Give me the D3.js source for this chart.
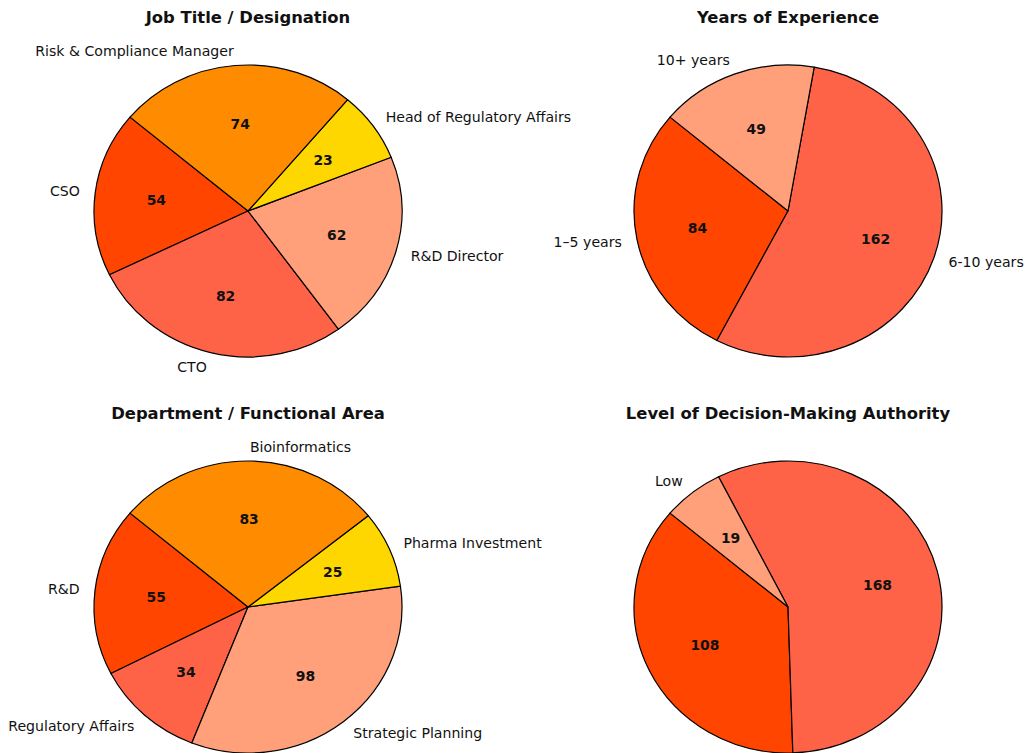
<!DOCTYPE html>
<html>
<head>
<meta charset="utf-8">
<title>Survey Respondent Profile</title>
<script src="https://cdn.jsdelivr.net/npm/d3@7"></script>
<style>
body { margin: 0; background: #ffffff; }
svg { display: block; }
svg text { font-family: "DejaVu Sans", sans-serif; fill: #111; }
.title { font-size: 16.4px; font-weight: bold; text-anchor: middle; }
.label { font-size: 14.1px; }
.count { font-size: 13.9px; font-weight: bold; text-anchor: middle; }
</style>
</head>
<body>
<svg id="chart" width="1025" height="753"></svg>
<script>

// ---- data, in the order the slices are laid out (counter-clockwise from 140 deg) ----
var jobTitles = ["CSO", "CTO", "R&D Director", "Head of Regulatory Affairs", "Risk & Compliance Manager"];
var jobCounts = [54, 82, 62, 23, 74];

var experienceLabels = ["1–5 years", "6-10 years", "10+ years"];
var experienceCounts = [84, 162, 49];

var departments = ["R&D", "Regulatory Affairs", "Strategic Planning", "Pharma Investment", "Bioinformatics"];
var departmentCounts = [55, 34, 98, 25, 83];

var authorityLabels = ["", "", "Low"];
var authorityCounts = [108, 168, 19];

var palette = ["#FF4500", "#FF6347", "#FFA07A", "#FFD700", "#FF8C00"];

// ---- layout ----
var RX = 154, RY = 146;          // the axes are not square, so the pies are squashed
var START_ANGLE = 140;           // degrees, matplotlib style (ccw from 3 o'clock)
var PCT_DIST = 0.6, LABEL_DIST = 1.1;

var panels = [
  { title: "Job Title / Designation",            labels: jobTitles,        values: jobCounts,        cx: 248, cy: 211 },
  { title: "Years of Experience",                labels: experienceLabels, values: experienceCounts, cx: 788, cy: 211 },
  { title: "Department / Functional Area",       labels: departments,      values: departmentCounts, cx: 248, cy: 607 },
  { title: "Level of Decision-Making Authority", labels: authorityLabels,  values: authorityCounts,  cx: 788, cy: 607 }
];

var svg = d3.select("#chart");

// d3 measures angles clockwise from 12 o'clock; run it backwards to go counter-clockwise
var d3Start = (90 - START_ANGLE) * Math.PI / 180;
var pie = d3.pie()
    .sort(null)
    .startAngle(d3Start)
    .endAngle(d3Start - 2 * Math.PI);

var arc = d3.arc()
    .innerRadius(0)
    .outerRadius(RX);

var color = d3.scaleOrdinal().range(palette);

function point(angle, dist) {
  return [Math.sin(angle) * RX * dist, -Math.cos(angle) * RY * dist];
}

panels.forEach(function(p) {

  var rows = p.values.map(function(v, i) { return { label: p.labels[i], value: v, index: i }; });
  var slices = pie.value(function(d) { return d.value; })(rows);
  color.domain(d3.range(rows.length));

  var g = svg.append("g")
      .attr("transform", "translate(" + p.cx + "," + p.cy + ")");

  g.append("g")
      .attr("transform", "scale(1," + (RY / RX) + ")")
    .selectAll("path")
    .data(slices)
    .enter()
    .append("path")
      .attr("d", arc)
      .attr("fill", function(d) { return color(d.data.index); })
      .attr("stroke", "#000")
      .attr("stroke-width", 1.2)
      .attr("stroke-linejoin", "round")
      .attr("vector-effect", "non-scaling-stroke");

  // counts inside the wedges
  g.selectAll(".count")
    .data(slices)
    .enter()
    .append("text")
      .attr("class", "count")
      .attr("x", function(d) { return point((d.startAngle + d.endAngle) / 2, PCT_DIST)[0]; })
      .attr("y", function(d) { return point((d.startAngle + d.endAngle) / 2, PCT_DIST)[1]; })
      .attr("dy", "0.36em")
      .text(function(d) { return d.data.value; });

  // category labels outside
  g.selectAll(".label")
    .data(slices)
    .enter()
    .append("text")
      .attr("class", "label")
      .attr("x", function(d) { return point((d.startAngle + d.endAngle) / 2, LABEL_DIST)[0]; })
      .attr("y", function(d) { return point((d.startAngle + d.endAngle) / 2, LABEL_DIST)[1]; })
      .attr("dy", "0.36em")
      .style("text-anchor", function(d) {
        return point((d.startAngle + d.endAngle) / 2, LABEL_DIST)[0] > 0 ? "start" : "end";
      })
      .text(function(d) { return d.data.label; });

  svg.append("text")
      .attr("class", "title")
      .attr("x", p.cx)
      .attr("y", p.cy - 188)
      .text(p.title);
});

</script>
</body>
</html>
